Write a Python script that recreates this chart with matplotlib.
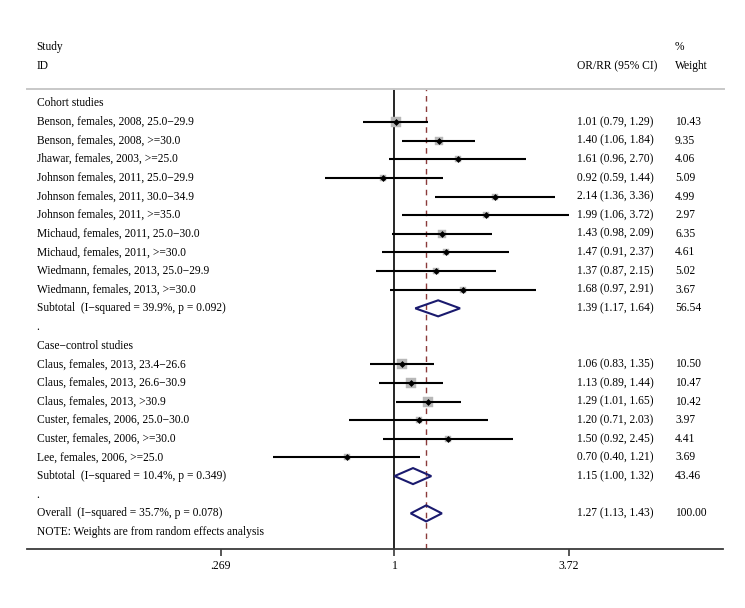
import numpy as np
import matplotlib
matplotlib.use("Agg")
import matplotlib.pyplot as plt
from matplotlib.transforms import blended_transform_factory
from matplotlib.patches import Polygon

plt.rcParams['font.family'] = ['Liberation Serif', 'DejaVu Serif']

# ---------------- data ----------------
cohort_labels = [
    "Benson, females, 2008, 25.0\u221229.9",
    "Benson, females, 2008, >=30.0",
    "Jhawar, females, 2003, >=25.0",
    "Johnson females, 2011, 25.0\u221229.9",
    "Johnson females, 2011, 30.0\u221234.9",
    "Johnson females, 2011, >=35.0",
    "Michaud, females, 2011, 25.0\u221230.0",
    "Michaud, females, 2011, >=30.0",
    "Wiedmann, females, 2013, 25.0\u221229.9",
    "Wiedmann, females, 2013, >=30.0",
]
cohort_or = [1.01, 1.40, 1.61, 0.92, 2.14, 1.99, 1.43, 1.47, 1.37, 1.68]
cohort_lo = [0.79, 1.06, 0.96, 0.59, 1.36, 1.06, 0.98, 0.91, 0.87, 0.97]
cohort_hi = [1.29, 1.84, 2.70, 1.44, 3.36, 3.72, 2.09, 2.37, 2.15, 2.91]
cohort_w = [10.43, 9.35, 4.06, 5.09, 4.99, 2.97, 6.35, 4.61, 5.02, 3.67]

cc_labels = [
    "Claus, females, 2013, 23.4\u221226.6",
    "Claus, females, 2013, 26.6\u221230.9",
    "Claus, females, 2013, >30.9",
    "Custer, females, 2006, 25.0\u221230.0",
    "Custer, females, 2006, >=30.0",
    "Lee, females, 2006, >=25.0",
]
cc_or = [1.06, 1.13, 1.29, 1.20, 1.50, 0.70]
cc_lo = [0.83, 0.89, 1.01, 0.71, 0.92, 0.40]
cc_hi = [1.35, 1.44, 1.65, 2.03, 2.45, 1.21]
cc_w = [10.50, 10.47, 10.42, 3.97, 4.41, 3.69]

pooled_labels = [
    "Subtotal  (I\u2212squared = 39.9%, p = 0.092)",
    "Subtotal  (I\u2212squared = 10.4%, p = 0.349)",
    "Overall  (I\u2212squared = 35.7%, p = 0.078)",
]
pooled_or = [1.39, 1.15, 1.27]
pooled_lo = [1.17, 1.00, 1.13]
pooled_hi = [1.64, 1.32, 1.43]
pooled_w = [56.54, 43.46, 100.00]

group_labels = ["Cohort studies", "Case\u2212control studies"]
tick_values = [0.269, 1, 3.72]
tick_labels = [".269", "1", "3.72"]
note_text = "NOTE: Weights are from random effects analysis"

# ---------------- layout ----------------
W, H = 745, 608
fig = plt.figure(figsize=(W / 100, H / 100), dpi=100)
fig.patch.set_facecolor("white")

ax_l, ax_r = 27.0, 723.5
ax_top, ax_bot = 89.0, 549.3
ax = fig.add_axes([ax_l / W, (H - ax_bot) / H, (ax_r - ax_l) / W, (ax_bot - ax_top) / H])
ax.set_xscale("log")
cx, scale = 394.5, 132.5
ax.set_xlim(np.exp((ax_l - cx) / scale), np.exp((ax_r - cx) / scale))
row0, dy = 103.3, 18.64
ax.set_ylim((ax_bot - row0) / dy, (ax_top - row0) / dy)

fs = 8.3

for s in ["top", "left", "right"]:
    ax.spines[s].set_visible(False)
ax.spines["bottom"].set_color("#3a3a3a")
ax.spines["bottom"].set_linewidth(1.3)
ax.set_yticks([])
ax.set_xticks(tick_values)
ax.set_xticklabels(tick_labels)
ax.xaxis.set_minor_locator(matplotlib.ticker.NullLocator())
ax.tick_params(axis="x", direction="out", length=5, width=1.2, color="#3a3a3a",
               labelsize=fs + 0.2, pad=3)

tr = blended_transform_factory(ax.transAxes, ax.transData)
x_lab = (36.7 - ax_l) / (ax_r - ax_l)
x_ci = (576.7 - ax_l) / (ax_r - ax_l)
x_w = (675.0 - ax_l) / (ax_r - ax_l)

def txt(x, y, s):
    ax.text(x, y, s, transform=tr, fontsize=fs, ha="left", va="center", clip_on=False)

# header
txt(x_lab, -3, "Study")
txt(x_lab, -2, "ID")
txt(x_ci, -2, "OR/RR (95% CI)")
txt(x_w, -3, "%")
txt(x_w, -2, "Weight")
ax.plot([0, 1], [(ax_top - row0) / dy] * 2, transform=tr, color="#c8c8c8", lw=1.4, clip_on=False)

# reference lines
ymin, ymax = ax.get_ylim()
ax.plot([1, 1], [ymin, ymax], color="black", lw=1.2, zorder=1)
ax.plot([pooled_or[2]] * 2, [ymin, ymax], color="#8b3a3a", lw=1.0, ls=(0, (4, 3.5)), zorder=1)

def study_row(y, lab, o, lo, hi, w):
    txt(x_lab, y, lab)
    txt(x_ci, y, f"{o:.2f} ({lo:.2f}, {hi:.2f})")
    txt(x_w, y, f"{w:.2f}")
    side = 6.8 * np.sqrt(w / 10.43)
    ax.plot([o], [y], marker="s", ms=side, mfc="#b8b8b8", mec="#b8b8b8", mew=0.3,
            ls="none", zorder=2)
    ax.plot([lo, hi], [y, y], color="black", lw=1.5, zorder=3, solid_capstyle="butt")
    ax.plot([o], [y], marker="D", ms=3.0, mfc="black", mec="black", mew=0.5,
            ls="none", zorder=4)

def pooled_row(y, lab, o, lo, hi, w):
    txt(x_lab, y, lab)
    txt(x_ci, y, f"{o:.2f} ({lo:.2f}, {hi:.2f})")
    txt(x_w, y, f"{w:.2f}")
    h = 0.43
    poly = Polygon([[lo, y], [o, y - h], [hi, y], [o, y + h]], closed=True,
                   facecolor="none", edgecolor="#1a1a6e", lw=1.5, zorder=5)
    ax.add_patch(poly)

y = 0
txt(x_lab, y, group_labels[0]); y += 1
for i in range(len(cohort_labels)):
    study_row(y, cohort_labels[i], cohort_or[i], cohort_lo[i], cohort_hi[i], cohort_w[i]); y += 1
pooled_row(y, pooled_labels[0], pooled_or[0], pooled_lo[0], pooled_hi[0], pooled_w[0]); y += 1
txt(x_lab, y, "."); y += 1
txt(x_lab, y, group_labels[1]); y += 1
for i in range(len(cc_labels)):
    study_row(y, cc_labels[i], cc_or[i], cc_lo[i], cc_hi[i], cc_w[i]); y += 1
pooled_row(y, pooled_labels[1], pooled_or[1], pooled_lo[1], pooled_hi[1], pooled_w[1]); y += 1
txt(x_lab, y, "."); y += 1
pooled_row(y, pooled_labels[2], pooled_or[2], pooled_lo[2], pooled_hi[2], pooled_w[2]); y += 1
txt(x_lab, y, note_text)

fig.savefig("out.png", dpi=100, facecolor="white")
